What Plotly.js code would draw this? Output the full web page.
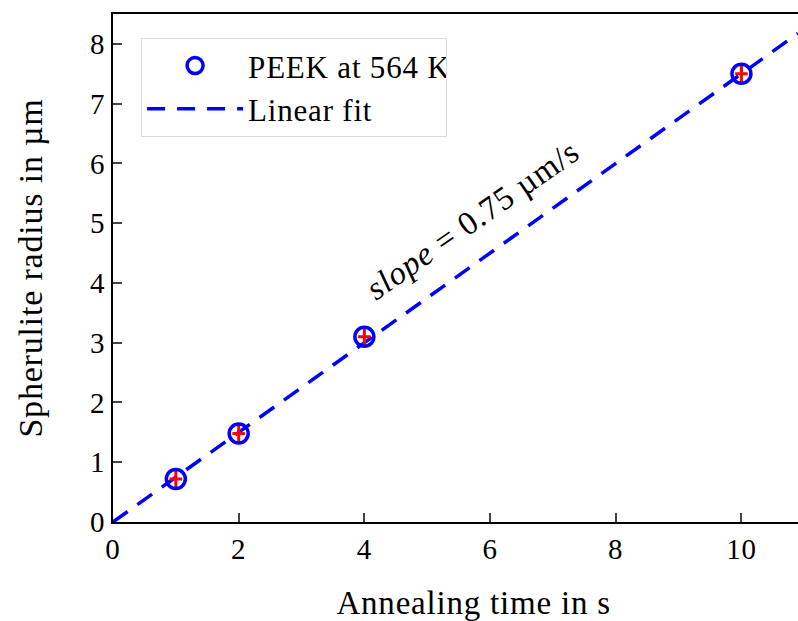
<!DOCTYPE html>
<html>
<head>
<meta charset="utf-8">
<script src="https://cdn.plot.ly/plotly-3.0.1.min.js"></script>
<style>
html,body{margin:0;padding:0;background:#fff;}
#chart{width:798px;height:621px;}
#chart text{letter-spacing:0.8px;}
</style>
</head>
<body>
<div id="chart"></div>
<script>
// Data
const annealTime = [1, 2, 4, 10];          // s
const radius = [0.72, 1.48, 3.1, 7.5];     // µm
const timeErr = [0.1, 0.1, 0.1, 0.1];
const radiusErr = [0.15, 0.15, 0.15, 0.15];
const fitX = [0, 10.9];
const fitY = [0, 8.175];
const xTicks = [0, 2, 4, 6, 8, 10];
const yTicks = [0, 1, 2, 3, 4, 5, 6, 7, 8];

const FONT = "Liberation Serif, Times New Roman, serif";
const FS = 31;

const traces = [
  {
    x: fitX, y: fitY, mode: 'lines', name: 'Linear fit',
    line: {color: '#0000ff', width: 3.5, dash: '18px,12px'},
    showlegend: true, legendrank: 2
  },
  {
    x: annealTime, y: radius, mode: 'markers', name: 'PEEK at 564 K',
    marker: {symbol: 'circle-open', size: 19, color: '#0000ff', line: {width: 3.5, color: '#0000ff'}},
    error_x: {type: 'data', array: timeErr, color: '#ff0000', thickness: 3, width: 0},
    error_y: {type: 'data', array: radiusErr, color: '#ff0000', thickness: 3, width: 0},
    legendrank: 1
  }
];

const layout = {
  width: 798, height: 621,
  margin: {l: 113, r: 0, t: 14, b: 99},
  paper_bgcolor: '#fff', plot_bgcolor: '#fff',
  font: {family: FONT, size: FS, color: '#000'},
  xaxis: {
    range: [0, 10.9], tickvals: xTicks, ticks: 'inside', ticklen: 9, tickwidth: 2,
    showline: true, linecolor: '#000', linewidth: 2, mirror: true,
    showgrid: false, zeroline: false, tickfont: {size: 29}
  },
  yaxis: {
    range: [0, 8.5], tickvals: yTicks, ticks: 'inside', ticklen: 9, tickwidth: 2,
    showline: true, linecolor: '#000', linewidth: 2, mirror: true,
    showgrid: false, zeroline: false, tickfont: {size: 29},
    title: {text: 'Spherulite radius in µm', font: {size: 34}, standoff: 38}
  },
  legend: {
    x: 0.041, y: 0.953, xanchor: 'left', yanchor: 'top',
    bgcolor: '#fff', bordercolor: '#dcdcdc', borderwidth: 1,
    font: {size: FS}, itemwidth: 96, tracegroupgap: 0
  },
  annotations: [
    {
      x: 5.72, y: 5.05, xref: 'x', yref: 'y',
      text: '<i>slope</i> = 0.75 µm/s', showarrow: false,
      textangle: -35, font: {size: 33}
    },
    {
      x: 0.526, y: -0.159, xref: 'paper', yref: 'paper',
      xanchor: 'center', yanchor: 'middle',
      text: 'Annealing time in s', showarrow: false, font: {size: 33}
    }
  ]
};

Plotly.newPlot('chart', traces, layout, {displayModeBar: false, staticPlot: true});
</script>
</body>
</html>
